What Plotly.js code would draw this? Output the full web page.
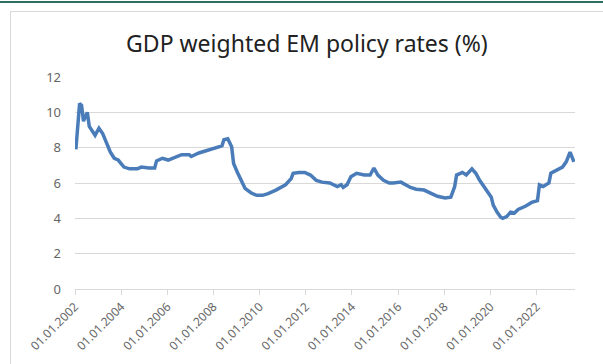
<!DOCTYPE html>
<html>
<head>
<meta charset="utf-8">
<script src="https://cdn.plot.ly/plotly-3.0.1.min.js"></script>
<style>
html,body{margin:0;padding:0;background:#fff;}
#wrap{position:relative;width:603px;height:364px;overflow:hidden;}
#topline{position:absolute;left:0;top:1px;width:603px;height:2px;background:#2e6f63;}
#frame{position:absolute;left:10px;top:11px;width:600px;height:400px;border:1px solid #d9d9d9;box-sizing:border-box;}
#chart{position:absolute;left:0;top:0;width:603px;height:364px;}
</style>
</head>
<body>
<div id="wrap">
<div id="topline"></div>
<div id="frame"></div>
<div id="chart"></div>
</div>
<script>
// Month (YYYY-MM) and GDP-weighted EM policy rate (%)
const months = [
 '2002-01','2002-03','2002-04','2002-05','2002-07','2002-08','2002-11',
 '2003-01','2003-03','2003-05','2003-07','2003-09','2003-11',
 '2004-02','2004-05','2004-09','2004-11',
 '2005-03','2005-06','2005-07','2005-10',
 '2006-01','2006-05','2006-08','2006-12',
 '2007-01','2007-05','2007-09',
 '2008-02','2008-05','2008-06','2008-08','2008-10','2008-11',
 '2009-01','2009-03','2009-05','2009-08','2009-11',
 '2010-02','2010-05','2010-09','2010-12',
 '2011-02','2011-05','2011-06','2011-09','2011-12',
 '2012-03','2012-06','2012-09',
 '2013-01','2013-05','2013-07','2013-08','2013-10','2013-12',
 '2014-03','2014-07','2014-10','2014-12',
 '2015-02','2015-05','2015-08','2015-10',
 '2016-02','2016-07','2016-10',
 '2017-02','2017-06','2017-09',
 '2018-01','2018-04','2018-06','2018-07','2018-10','2018-12',
 '2019-03','2019-05','2019-07','2019-10',
 '2020-01','2020-02','2020-04','2020-06','2020-07','2020-09','2020-11',
 '2021-01','2021-03','2021-07','2021-10',
 '2022-01','2022-02','2022-04','2022-07','2022-08','2022-11',
 '2023-02','2023-04','2023-06','2023-08'
];
const rates = [
 7.9,10.5,10.4,9.5,10.0,9.2,8.7,
 9.1,8.8,8.3,7.75,7.4,7.3,
 6.9,6.8,6.8,6.9,
 6.85,6.85,7.25,7.4,
 7.3,7.45,7.6,7.6,
 7.5,7.7,7.85,
 8.0,8.1,8.45,8.5,8.05,7.1,
 6.6,6.2,5.7,5.45,5.3,
 5.3,5.4,5.6,5.75,
 5.9,6.25,6.55,6.6,6.6,
 6.45,6.15,6.05,
 6.0,5.8,5.9,5.75,5.9,6.35,
 6.55,6.45,6.45,6.85,
 6.45,6.15,6.0,6.0,
 6.05,5.75,5.65,
 5.6,5.4,5.25,
 5.15,5.2,5.8,6.45,6.6,6.45,
 6.8,6.55,6.15,5.7,
 5.2,4.75,4.35,4.05,4.0,4.1,4.35,
 4.3,4.5,4.7,4.9,
 5.0,5.9,5.8,6.0,6.55,6.7,
 6.9,7.2,7.75,7.2
];
const tickYears = ['2002','2004','2006','2008','2010','2012','2014','2016','2018','2020','2022'];
const tickLabels = tickYears.map(y => '01.01.' + y);
const titleText = 'GDP weighted EM policy rates (%)';

const trace = {
  x: months.map(m => m + '-15'),
  y: rates,
  type: 'scatter',
  mode: 'lines',
  line: {color: '#4a7cb9', width: 3.5},
  hoverinfo: 'skip'
};

const layout = {
  width: 603, height: 364,
  margin: {l: 75, r: 28, t: 77, b: 75},
  paper_bgcolor: 'rgba(0,0,0,0)',
  plot_bgcolor: 'rgba(0,0,0,0)',
  showlegend: false,
  title: {
    text: titleText,
    font: {family: 'Noto Sans, Open Sans, sans-serif', size: 23, color: '#222'},
    xref: 'container', x: 0.509, xanchor: 'center',
    yref: 'container', y: 0.88, yanchor: 'middle'
  },
  xaxis: {
    type: 'date',
    range: ['2002-01-01', '2023-09-01'],
    tickvals: tickYears.map(y => y + '-01-01'),
    ticktext: tickLabels,
    tickangle: -45,
    tickfont: {family: 'Noto Sans, Open Sans, sans-serif', size: 12, color: '#666'},
    showgrid: false,
    zeroline: false,
    showline: true, linecolor: '#d9d9d9', linewidth: 1,
    ticks: 'outside', ticklen: 5, tickcolor: '#d9d9d9', tickwidth: 1,
    fixedrange: true
  },
  yaxis: {
    range: [0, 12],
    dtick: 2,
    tick0: 0,
    tickfont: {family: 'Noto Sans, Open Sans, sans-serif', size: 13, color: '#666'},
    showgrid: true, gridcolor: '#d9d9d9', gridwidth: 1,
    zeroline: false,
    showline: false,
    ticks: '',
    ticklabelstandoff: 13,
    fixedrange: true
  }
};

Plotly.newPlot('chart', [trace], layout, {staticPlot: true, displayModeBar: false});
</script>
</body>
</html>
